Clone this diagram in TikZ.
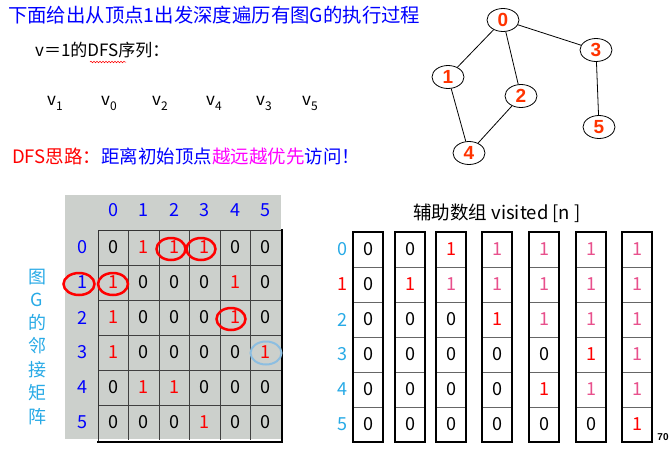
\documentclass[tikz,border=0pt]{standalone}
\usepackage{fontspec}
\setmainfont{Noto Sans CJK SC}
\newfontfamily\arialf{Liberation Sans}
\usetikzlibrary{shapes.geometric,decorations.pathmorphing}
\definecolor{tblue}{RGB}{0,0,255}
\definecolor{gred}{RGB}{255,51,0}
\definecolor{mred}{RGB}{255,0,0}
\definecolor{mpink}{RGB}{232,80,140}
\definecolor{lblue}{RGB}{40,170,230}
\definecolor{cblue}{RGB}{140,190,225}
\definecolor{tmag}{RGB}{255,0,255}
\definecolor{mgray}{RGB}{204,208,204}
\tikzset{
  gnode/.style={ellipse,draw=black,line width=0.8pt,minimum width=32pt,minimum height=23pt,inner sep=0pt,font=\arialf\bfseries\fontsize{19}{19}\selectfont,text=gred},
  gedge/.style={line width=0.8pt,black},
  cell/.style={inner sep=0pt,font=\fontsize{18}{18}\selectfont},
  hdr/.style={inner sep=0pt,font=\fontsize{18}{18}\selectfont,text=tblue},
  redring/.style={ellipse,draw=mred,line width=2.5pt,minimum width=29pt,minimum height=22pt,inner sep=0pt},
  bluering/.style={ellipse,draw=cblue,line width=2pt,minimum width=31pt,minimum height=23pt,inner sep=0pt},
}
\begin{document}
\begin{tikzpicture}[x=1pt,y=-1pt]
\useasboundingbox (0,0) rectangle (670,456);
% title texts
\node[anchor=west,inner sep=0pt,text=tblue,font=\fontsize{19.4}{19.4}\selectfont] (title) at (8,15) {下面给出从顶点1出发深度遍历有图G的执行过程};
\node[anchor=west,inner sep=0pt,font=\fontsize{17}{17}\selectfont] (vline) at (35,50) {v＝1的DFS序列：};
\coordinate (sqa) at (90,62);
\coordinate (sqb) at (126,62);
\draw[mred,line width=0.5pt,decorate,decoration={snake,amplitude=0.8pt,segment length=3pt}] (sqa) -- (sqb);
\foreach \xx/\s [count=\k] in {47/1,101/0,152/2,206/4,256/3,302/5}
  \node[anchor=base west,inner sep=0pt,font=\fontsize{17}{17}\selectfont] (seq\k) at (\xx,105) {v\raisebox{-0.3em}{\fontsize{12}{12}\selectfont\s}};
\node[anchor=west,inner sep=0pt,font=\fontsize{18.5}{18.5}\selectfont] (idea) at (12,156) {\textcolor{mred}{DFS思路：}\textcolor{tblue}{距离初始顶点}\textcolor{tmag}{越远越优先}\textcolor{tblue}{访问！}};
% graph
\node[gnode] (g0) at (503,20) {0};
\node[gnode] (g1) at (448,77) {1};
\node[gnode] (g2) at (521,96) {2};
\node[gnode] (g3) at (596,50) {3};
\node[gnode] (g5) at (599,127) {5};
\node[gnode] (g4) at (469,153) {4};
\draw[gedge] (g0) -- (g1);
\draw[gedge] (g0) -- (g2);
\draw[gedge] (g0) -- (g3);
\draw[gedge] (g1) -- (g4);
\draw[gedge] (g2) -- (g4);
\draw[gedge] (g3) -- (g5);
% adjacency matrix
\fill[mgray] (65,195) rectangle (281,439);
\foreach \j in {0,...,5}
  \node[hdr] (ch\j) at ({113.25+30.5*\j},210) {\j};
\foreach \i in {0,...,5}
  \node[hdr] (rh\i) at (82,{247.5+35*\i}) {\i};
\foreach \i in {1,...,5}
  \draw[black!75,line width=0.8pt] (98,{230+35*\i}) -- (281,{230+35*\i});
\foreach \j in {1,...,5}
  \draw[black!75,line width=0.8pt] ({98+30.5*\j},230) -- ({98+30.5*\j},440);
\draw[black!80,line width=0.8pt] (98,441) -- (98,230) -- (281,230);
\draw[black,line width=2.2pt] (282,229) -- (282,442) -- (97,442);
\foreach \row [count=\i from 0] in {{0,1,1,1,0,0},{1,0,0,0,1,0},{1,0,0,0,1,0},{1,0,0,0,0,1},{0,1,1,0,0,0},{0,0,0,1,0,0}}{
  \foreach \v [count=\j from 0] in \row {
    \ifnum\v=1 \def\cc{mred}\else\def\cc{black}\fi
    \node[cell,text=\cc] (m\i\j) at ({113.25+30.5*\j},{247.5+35*\i}) {\v};
  }
}
\node[redring] (r02) at (171,249) {};
\node[redring] (r03) at (201,249) {};
\node[redring,minimum width=30pt] (r10) at (113,284) {};
\node[redring,minimum width=31pt] (rl1) at (79,284) {};
\node[redring] (r24) at (231,319) {};
\node[bluering] (r35) at (266,353) {};
% vertical label
\foreach \ch/\yy [count=\k] in {图/277,G/300,的/322,邻/346,接/370,矩/393,阵/417}
  \node[inner sep=0pt,text=lblue,font=\fontsize{18}{18}\selectfont] (vl\k) at (37,\yy) {\ch};
% visited arrays
\node[inner sep=0pt,font=\fontsize{18.5}{18.5}\selectfont] (vtitle) at (497,213) {辅助数组 visited [n ]};
\foreach \i/\cc in {0/lblue,1/mred,2/lblue,3/lblue,4/lblue,5/lblue}
  \node[cell,text=\cc] (vr\i) at (342,{249.5+35*\i}) {\i};
\foreach \xx/\vals [count=\c] in {353/{0,0,0,0,0,0},395/{0,2,0,0,0,0},436/{2,1,0,0,0,0},482/{1,1,2,0,0,0},529/{1,1,1,0,2,0},576/{1,1,1,2,1,0},622/{1,1,1,1,1,2}}{
  \foreach \r in {1,...,5}
    \draw[black!60,line width=0.8pt] (\xx,{232+35*\r}) -- (\xx+30,{232+35*\r});
  \draw[black,line width=2pt] (\xx,232) rectangle (\xx+30,442);
  \foreach \v [count=\r from 0] in \vals {
    \ifcase\v \def\cc{black}\def\tt{0}\or \def\cc{mpink}\def\tt{1}\or \def\cc{mred}\def\tt{1}\fi
    \node[cell,text=\cc] (a\c\r) at (\xx+15,{249.5+35*\r}) {\tt};
  }
}
\node[inner sep=0pt,font=\arialf\bfseries\fontsize{10}{10}\selectfont] (pg) at (663,437) {70};
\end{tikzpicture}
\end{document}
